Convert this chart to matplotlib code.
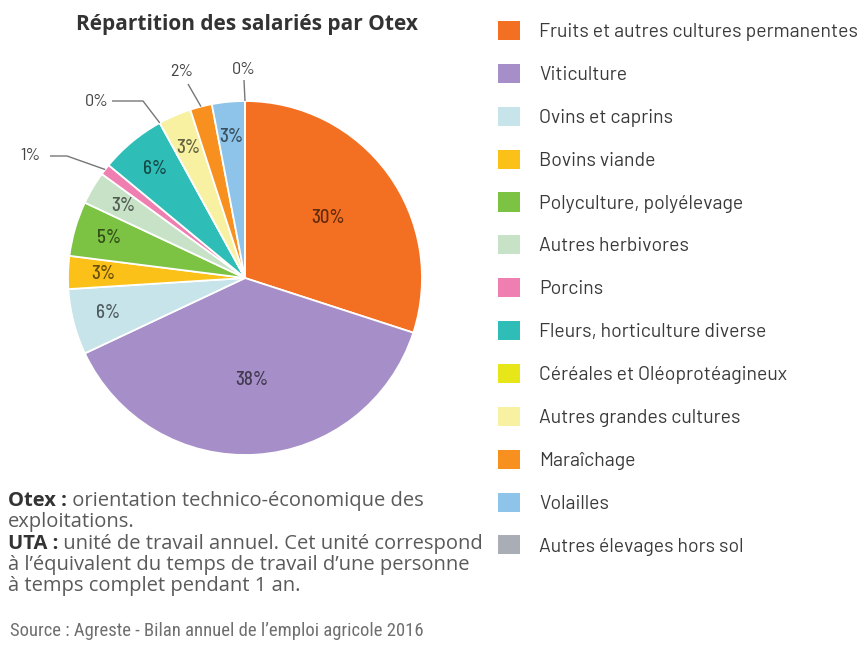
import numpy as np
import matplotlib
matplotlib.use('Agg')
import matplotlib.pyplot as plt
from matplotlib.colors import to_rgb
from matplotlib.patches import Patch

# Répartition des salariés par Otex (%)
categories = [
    "Fruits et autres cultures permanentes",
    "Viticulture",
    "Ovins et caprins",
    "Bovins viande",
    "Polyculture, polyélevage",
    "Autres herbivores",
    "Porcins",
    "Fleurs, horticulture diverse",
    "Céréales et Oléoprotéagineux",
    "Autres grandes cultures",
    "Maraîchage",
    "Volailles",
    "Autres élevages hors sol",
]
shares = [30, 38, 6, 3, 5, 3, 1, 6, 0, 3, 2, 3, 0]
colors = [
    "#f36f21", "#a68fc8", "#c6e4ea", "#fcc118", "#7cc243", "#c7e2c6",
    "#f07fb1", "#2fbdb7", "#e6e619", "#f7f1a1", "#f7901e", "#8ec4e9",
    "#a9adb5",
]

W, H = 865, 647
CX, CY, R = 245, 278, 177   # pie centre / radius in pixels

DIN = ['Barlow', 'DejaVu Sans']
NARROW = ['Barlow Semi Condensed', 'DejaVu Sans']
SRC = ['Roboto Condensed', 'DejaVu Sans']
OPEN = ['Open Sans', 'DejaVu Sans']


def px(x, y):
    """pixel position (from top-left) -> data coords of the pie axes"""
    return ((x - CX) / R, (CY - y) / R)


fig = plt.figure(figsize=(W / 100, H / 100), dpi=100)
ax = fig.add_axes([0, 0, 1, 1])
wedges, _ = ax.pie(shares, colors=colors, startangle=90, counterclock=False,
                   radius=1, wedgeprops=dict(edgecolor='white', linewidth=1.3))
ax.set_xlim(-CX / R, (W - CX) / R)
ax.set_ylim(-(H - CY) / R, CY / R)
ax.set_aspect('auto')
ax.axis('off')

# labels placed outside with a leader line: index -> (text pos, line points)
outside = {
    12: ((244, 69), [(244, 80)]),
    10: ((182, 71), [(188, 84)]),
    8: ((97, 101), [(112, 101), (143, 101)]),
    6: ((30, 156), [(50, 156), (67, 156)]),
}

for i, (w, v) in enumerate(zip(wedges, shares)):
    theta = np.deg2rad((w.theta1 + w.theta2) / 2)
    label = f"{v}%"
    if i in outside:
        tpos, pts = outside[i]
        edge = (np.cos(theta), np.sin(theta))
        line = [px(*p) for p in pts] + [edge]
        ax.plot([p[0] for p in line], [p[1] for p in line],
                color='#777777', lw=1.0, solid_capstyle='butt')
        ax.text(*px(*tpos), label, ha='center', va='center',
                fontsize=13, family=NARROW, color='#444444')
    else:
        dist = 0.58 if v >= 20 else 0.8
        dark = tuple(c * 0.4 for c in to_rgb(colors[i]))
        ax.text(dist * np.cos(theta), dist * np.sin(theta), label,
                ha='center', va='center', fontsize=13.5, family=NARROW,
                fontweight='medium', color=dark)

fig.text(247 / W, 1 - 30 / H, "Répartition des salariés par Otex",
         ha='center', va='baseline', fontsize=15, fontweight='bold',
         family=OPEN, color='#333333')

# legend
handles = [Patch(facecolor=c, edgecolor='none') for c in colors]
leg = fig.legend(handles, categories, loc='upper left',
                 bbox_to_anchor=(498 / W, 1 - 21 / H), frameon=False,
                 borderpad=0, borderaxespad=0, handlelength=1.13,
                 handleheight=1.13, handletextpad=1.0, labelspacing=1.17,
                 prop=dict(family=DIN, size=14))
for t in leg.get_texts():
    t.set_color('#3a3a3a')

# notes
renderer = fig.canvas.get_renderer()
notes = [
    ("Otex :", " orientation technico-économique des", 506),
    ("", "exploitations.", 527),
    ("UTA :", " unité de travail annuel. Cet unité correspond", 549),
    ("", "à l’équivalent du temps de travail d’une personne", 570),
    ("", "à temps complet pendant 1 an.", 591),
]
for bold, rest, y in notes:
    x = 8 / W
    if bold:
        tb = fig.text(x, 1 - y / H, bold, ha='left', va='baseline',
                      fontsize=14.5, fontweight='bold', family=OPEN,
                      color='#333333')
        bb = tb.get_window_extent(renderer)
        x = bb.x1 / W
    fig.text(x, 1 - y / H, rest, ha='left', va='baseline', fontsize=14.5,
             family=OPEN, color='#5a5a5a')

fig.text(10 / W, 1 - 636 / H,
         "Source : Agreste - Bilan annuel de l’emploi agricole 2016",
         ha='left', va='baseline', fontsize=13.4, family=SRC,
         color='#6f6f6f')

fig.savefig('out.png', dpi=100, facecolor='white')
